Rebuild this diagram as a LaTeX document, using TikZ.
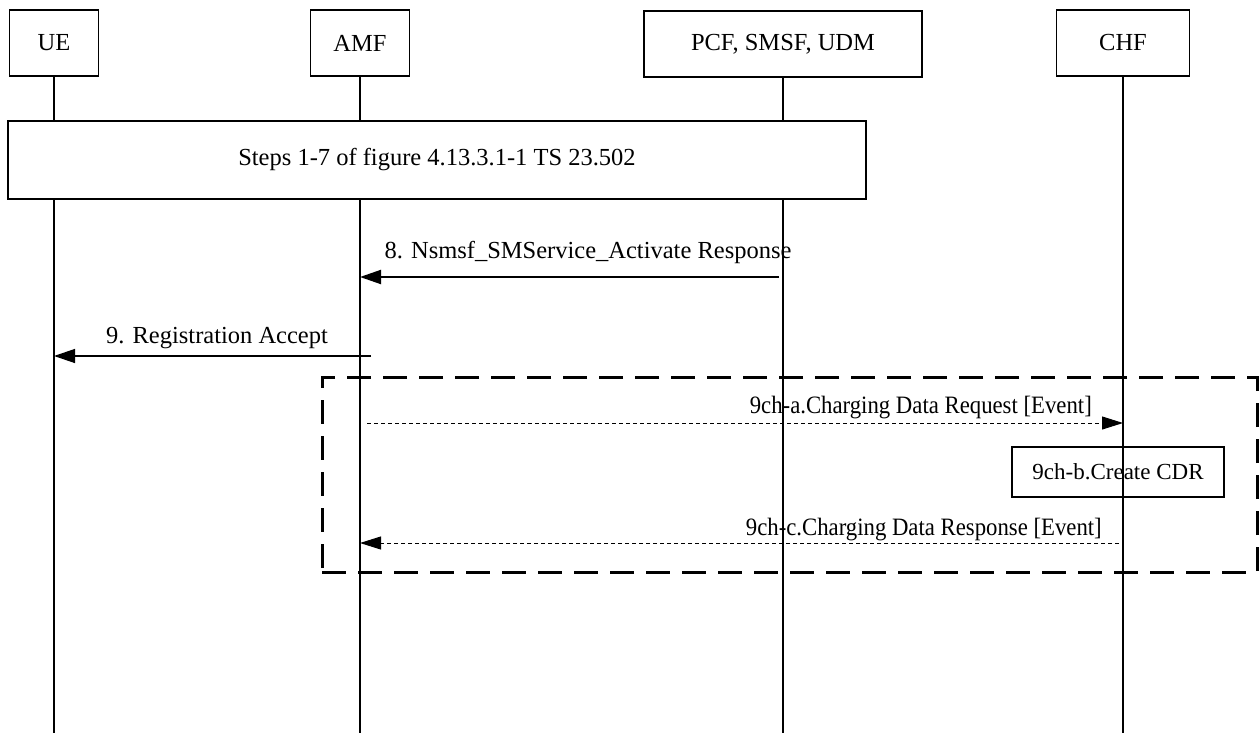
\documentclass[tikz,border=0pt]{standalone}
\usepackage{fontspec}
\setmainfont{Liberation Serif}
\newfontfamily\narrowserif[FakeStretch=0.91]{Liberation Serif}
\usetikzlibrary{arrows.meta, calc}
\tikzstyle{entity} = [
    rectangle,
    draw=black,
    line width=1.2pt,
    fill=white,
    minimum height=66pt,
    text centered,
    font=\fontsize{24.5}{29}\selectfont
]
\tikzstyle{lifeline} = [line width=2pt]
\tikzstyle{msg} = [-{Triangle[length=21pt,width=14pt]}, line width=2pt]
\tikzstyle{chgmsg} = [-{Triangle[length=21pt,width=13pt]}, line width=1pt, dash pattern=on 4pt off 3pt]
\tikzstyle{msglabel} = [anchor=base, inner sep=0pt, font=\fontsize{24.5}{29}\selectfont]
\tikzstyle{chglabel} = [anchor=base east, inner sep=0pt, font=\narrowserif\fontsize{25}{29}\selectfont]
\tikzstyle{group} = [draw=black, line width=3pt, dash pattern=on 24pt off 12pt]

\begin{document}
\begin{tikzpicture}[x=1pt, y=-1pt]
    \useasboundingbox (0,0) rectangle (1260,733);

    % Entities
    \node (ue) [entity, minimum width=89pt] at (54,43) {UE};
    \node (amf) [entity, minimum width=99pt] at (360,43) {AMF};
    \node (pcf) [entity, minimum width=278pt] at (783,44) {PCF, SMSF, UDM};
    \node (chf) [entity, minimum width=133pt] at (1123,43) {CHF};

    % Lifelines
    \coordinate (ue_end) at (ue.south |- 0,733);
    \coordinate (amf_end) at (amf.south |- 0,733);
    \coordinate (pcf_end) at (pcf.south |- 0,733);
    \coordinate (chf_end) at (chf.south |- 0,733);
    \draw [lifeline] (ue) -- (ue_end);
    \draw [lifeline] (amf) -- (amf_end);
    \draw [lifeline] (pcf) -- (pcf_end);
    \draw [lifeline] (chf) -- (chf_end);

    % Steps 1-7
    \node (steps) [entity, minimum width=858pt, minimum height=78pt] at (437,160) {Steps 1-7 of figure 4.13.3.1-1 TS 23.502};

    % Message end points on the lifelines
    \coordinate (pcf_8) at (779,277);
    \coordinate (amf_8) at (amf.south |- 0,277);
    \coordinate (amf_9) at (371,356);
    \coordinate (ue_9) at (ue.south |- 0,356);
    \coordinate (amf_9a) at (367,423);
    \coordinate (chf_9a) at (chf.south |- 0,423);
    \coordinate (chf_9c) at (1119,543);
    \coordinate (amf_9c) at (amf.south |- 0,543);

    % Messages
    \draw [msg] (pcf_8) -- (amf_8);
    \node (lbl8) [msglabel] at (588,258) {8. Nsmsf\_SMService\_Activate Response};
    \draw [msg, line width=1.3pt] (amf_9) -- (ue_9);
    \node (lbl9) [msglabel] at (217,343) {9. Registration Accept};

    % Charging
    \node (charging) [group, minimum width=935pt, minimum height=195pt] at (789.5,474.5) {};
    \draw [chgmsg] (amf_9a) -- (chf_9a);
    \node (lbl9a) [chglabel] at (1092,413) {9ch-a.Charging Data Request [Event]};
    \node (cdr) [entity, fill=none, minimum width=212pt, minimum height=50pt, font=\fontsize{23}{27}\selectfont] at (1118,472) {9ch-b.Create CDR};
    \draw [chgmsg] (chf_9c) -- (amf_9c);
    \node (lbl9c) [chglabel] at (1102,535) {9ch-c.Charging Data Response [Event]};
\end{tikzpicture}
\end{document}
